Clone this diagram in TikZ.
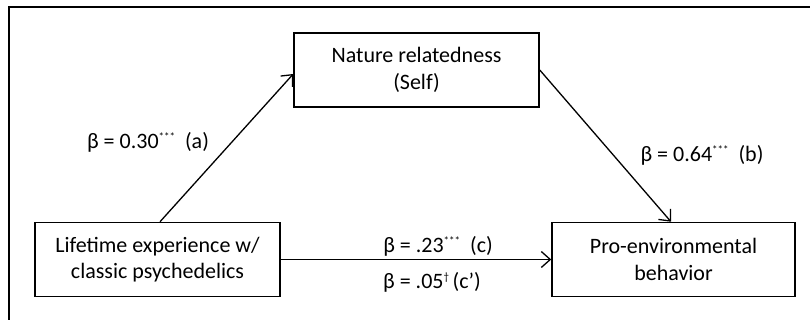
\documentclass[tikz,border=0pt]{standalone}
\usepackage{fontspec}
\setmainfont{Carlito}
\usetikzlibrary{arrows.meta,calc}
\newcommand{\supmark}[1]{\raisebox{8pt}{\fontsize{11}{11}\selectfont #1}}
\begin{document}
\begin{tikzpicture}[x=1pt,y=-1pt,
  box/.style={draw, line width=1.5pt, minimum width=245pt, minimum height=74pt, align=center, inner sep=0pt, font=\fontsize{22}{26.5}\selectfont},
  lbl/.style={inner sep=0pt, font=\fontsize{22}{26}\selectfont},
  arr/.style={line width=1.3pt, -{Straight Barb[length=9pt,width=16pt,line width=1.3pt]}}]
\useasboundingbox (0,0) rectangle (810,320);
\draw[line width=1.3pt] (9,320) -- (9,7) -- (810,7);
\node[box] (T) at (416.5,70) {Nature relatedness\\(Self)};
\node[box] (L) at (157.5,259.5) {Lifetime experience w/\\classic psychedelics};
\node[box, minimum width=243pt] (R) at (673.5,259.5) {Pro-environmental\\behavior};
\draw[arr] ($(L.north)+(2.5,0)$) -- ($(T.west)+(0,4)$);
\draw[arr] (T.east) -- ($(R.north)+(-2.5,0)$);
\draw[arr] (L.east) -- (R.west);
\node[lbl] (la) at (148,142) {β = 0.30\supmark{***}\ \ (a)};
\node[lbl] (lb) at (702,155) {β = 0.64\supmark{***}\ \ (b)};
\node[lbl] (lc) at (438,246) {β = .23\supmark{***}\ \ (c)};
\node[lbl] (lc2) at (432,282) {β = .05\supmark{†}\,(c’)};
\end{tikzpicture}
\end{document}
